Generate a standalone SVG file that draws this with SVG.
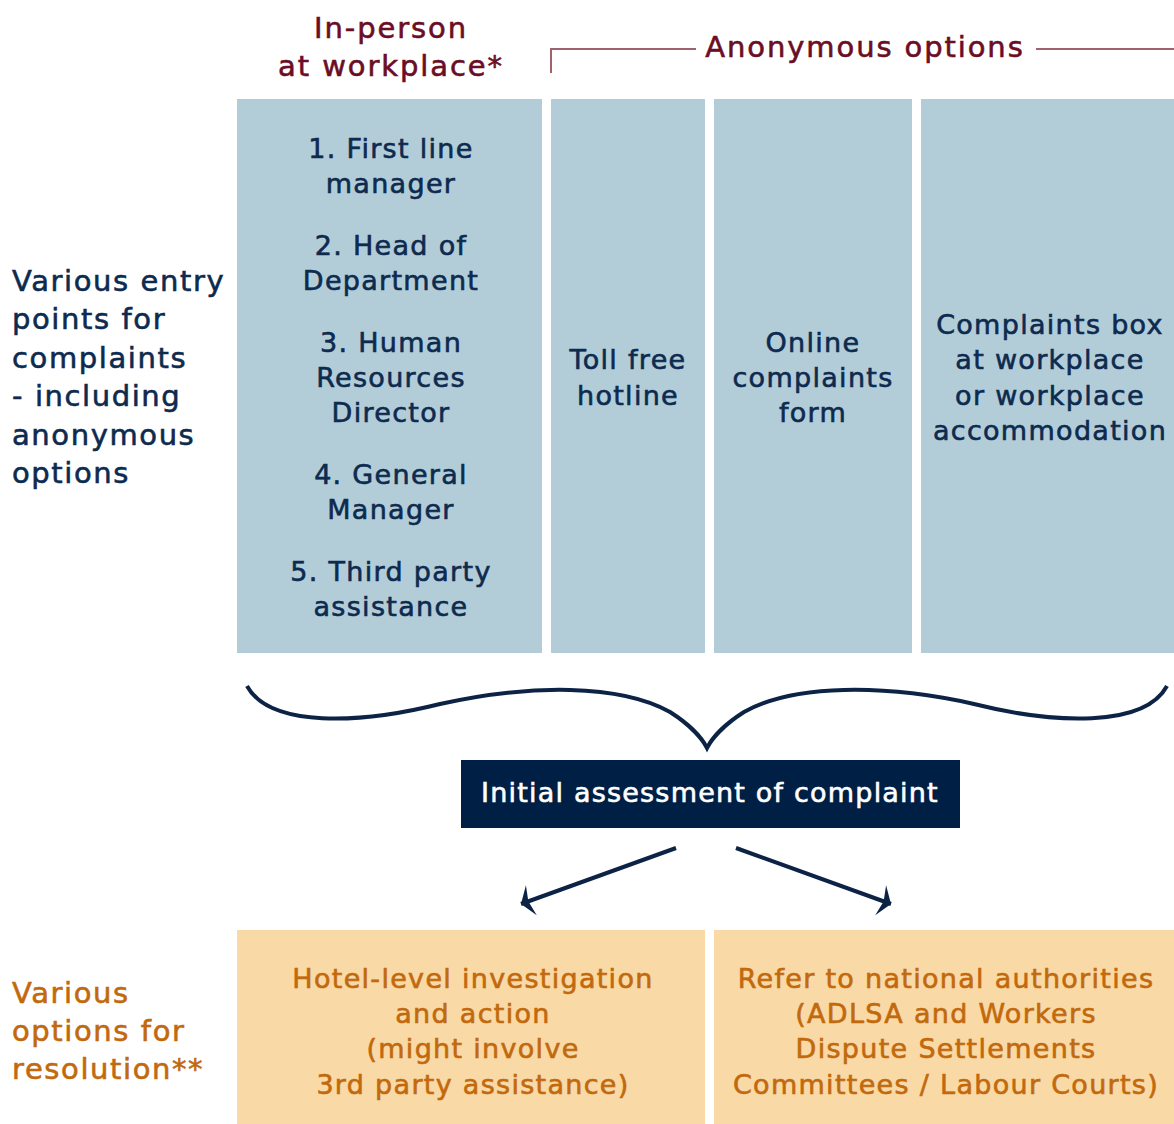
<svg xmlns="http://www.w3.org/2000/svg" width="1174" height="1124" viewBox="0 0 1174 1124">
<defs>
<style>
text{font-family:"DejaVu Sans","Liberation Sans",sans-serif;stroke-width:0.6px;}
.hdr{fill:#6b0d24;stroke:#6b0d24;font-size:29px;letter-spacing:1.9px;}
.nav{fill:#0d2a4f;stroke:#0d2a4f;font-size:27px;letter-spacing:1.3px;}
.side{fill:#0d2a4f;stroke:#0d2a4f;font-size:29px;letter-spacing:1.6px;}
.org{fill:#c2690d;stroke:#c2690d;font-size:27px;letter-spacing:1.3px;}
.orgs{fill:#c2690d;stroke:#c2690d;font-size:29px;letter-spacing:1.6px;}
.wht{fill:#ffffff;stroke:#ffffff;font-size:27px;letter-spacing:1.2px;}
.c{text-anchor:middle;}
.col{fill:#b3cdd8;}
.res{fill:#f9d9a6;}
.conn{stroke:#0d2346;fill:none;stroke-width:4;}
</style>
<marker id="ah" markerUnits="userSpaceOnUse" viewBox="-16 -18 18 36" refX="0" refY="0" markerWidth="18" markerHeight="36" orient="auto">
<path d="M0,0 L-11,-16 L-8,-1 L-8,1 L-11,16 Z" fill="#0d2346"/>
</marker>
</defs>

<g id="header-inperson">
<text class="hdr c" x="391" y="38">In-person</text>
<text class="hdr c" x="391" y="76">at workplace*</text>
</g>
<g id="header-anonymous">
<path d="M551,73 L551,49 L696,49" stroke="#a0626d" stroke-width="2" fill="none"/>
<path d="M1036,49 L1174,49" stroke="#a0626d" stroke-width="2" fill="none"/>
<text class="hdr c" x="865" y="57">Anonymous options</text>
</g>

<g id="label-entry">
<text class="side" x="12" y="291">Various entry</text>
<text class="side" x="12" y="329">points for</text>
<text class="side" x="12" y="368">complaints</text>
<text class="side" x="12" y="406">- including</text>
<text class="side" x="12" y="445">anonymous</text>
<text class="side" x="12" y="483">options</text>
</g>

<g id="col-inperson">
<rect class="col" x="237" y="99" width="305" height="554"/>
<text class="nav c" x="391" y="158">1. First line</text>
<text class="nav c" x="391" y="193">manager</text>
<text class="nav c" x="391" y="255">2. Head of</text>
<text class="nav c" x="391" y="290">Department</text>
<text class="nav c" x="391" y="352">3. Human</text>
<text class="nav c" x="391" y="387">Resources</text>
<text class="nav c" x="391" y="422">Director</text>
<text class="nav c" x="391" y="484">4. General</text>
<text class="nav c" x="391" y="519">Manager</text>
<text class="nav c" x="391" y="581">5. Third party</text>
<text class="nav c" x="391" y="616">assistance</text>
</g>

<g id="col-hotline">
<rect class="col" x="551" y="99" width="154" height="554"/>
<text class="nav c" x="628" y="369">Toll free</text>
<text class="nav c" x="628" y="405">hotline</text>
</g>

<g id="col-online">
<rect class="col" x="714" y="99" width="198" height="554"/>
<text class="nav c" x="813" y="352">Online</text>
<text class="nav c" x="813" y="387">complaints</text>
<text class="nav c" x="813" y="422">form</text>
</g>

<g id="col-box">
<rect class="col" x="921" y="99" width="253" height="554"/>
<text class="nav c" x="1050" y="334">Complaints box</text>
<text class="nav c" x="1050" y="369">at workplace</text>
<text class="nav c" x="1050" y="405">or workplace</text>
<text class="nav c" x="1050" y="440">accommodation</text>
</g>

<g id="assessment">
<rect x="461" y="760" width="499" height="68" fill="#001f44"/>
<text class="wht c" x="710" y="802">Initial assessment of complaint</text>
</g>

<g id="label-resolution">
<text class="orgs" x="12" y="1003">Various</text>
<text class="orgs" x="12" y="1041">options for</text>
<text class="orgs" x="12" y="1079">resolution**</text>
</g>

<g id="res-hotel">
<rect class="res" x="237" y="930" width="468" height="194"/>
<text class="org c" x="473" y="988">Hotel-level investigation</text>
<text class="org c" x="473" y="1023">and action</text>
<text class="org c" x="473" y="1058">(might involve</text>
<text class="org c" x="473" y="1094">3rd party assistance)</text>
</g>

<g id="res-national">
<rect class="res" x="714" y="930" width="460" height="194"/>
<text class="org c" x="946" y="988">Refer to national authorities</text>
<text class="org c" x="946" y="1023">(ADLSA and Workers</text>
<text class="org c" x="946" y="1058">Dispute Settlements</text>
<text class="org c" x="946" y="1094">Committees / Labour Courts)</text>
</g>

<g id="connectors">
<path class="conn" d="M247,686 C270,728 360,724 440,704 C530,684 620,684 670,712 C692,726 703,740 707,748 C711,740 722,726 744,712 C794,684 884,684 974,704 C1054,724 1144,728 1167,686"/>
<path class="conn" d="M676,848 L521,904" marker-end="url(#ah)"/>
<path class="conn" d="M736,848 L891,904" marker-end="url(#ah)"/>
</g>
</svg>
